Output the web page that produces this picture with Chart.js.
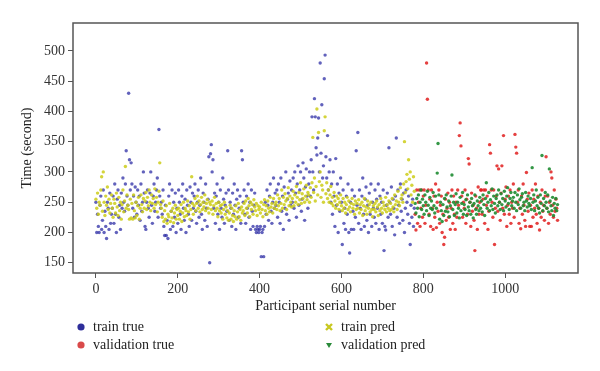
<!DOCTYPE html>
<html>
<head>
<meta charset="utf-8">
<script src="https://cdn.jsdelivr.net/npm/chart.js@4"></script>
<style>
  html, body { margin: 0; padding: 0; background: #fff; }
  #wrap { position: relative; width: 600px; height: 371px; }
  #legend { position: absolute; left: 0; top: 0; width: 600px; height: 371px; pointer-events: none;
            font-family: "Liberation Serif", "DejaVu Serif", serif; font-size: 14px; color: #222; }
  .item { position: absolute; height: 18px; line-height: 18px; white-space: nowrap; }
  .item svg { position: absolute; left: 0; top: 5px; }
  .item span { position: absolute; left: 16px; top: 0; }
</style>
</head>
<body>
<div id="wrap">
  <canvas id="chart" width="600" height="371"></canvas>
  <div id="legend"></div>
</div>
<script>

// participant indices are spaced by 2 (every second participant plotted)
const step = 2;
const trainStart = 0;
const valStart = 780;

const trainTrue = [
  250,200,230,210,200,245,260,205,220,270,200,235,210,190,250,240,205,265,215,230,
  240,260,215,280,230,200,255,270,225,245,205,265,240,290,250,235,280,335,260,245,
  430,320,270,315,280,240,260,225,275,250,230,270,245,260,220,280,235,250,300,265,
  210,205,250,270,240,225,265,300,245,215,260,280,235,250,270,290,225,370,260,240,
  250,230,270,210,195,245,195,220,190,260,280,205,235,270,210,250,225,265,200,240,
  215,270,250,230,205,260,280,240,220,255,200,270,245,230,210,275,250,220,265,240,
  260,280,235,215,250,270,225,245,290,230,205,265,250,220,280,240,210,255,325,150,
  330,345,300,320,240,265,215,260,280,230,250,205,270,240,225,290,255,215,245,265,
  235,335,270,220,250,240,210,265,230,280,245,205,255,270,225,240,260,215,335,320,
  250,270,230,215,260,240,280,225,250,205,270,235,210,245,265,205,200,210,205,200,
  205,210,160,200,205,160,210,250,230,270,245,220,260,280,235,215,250,290,240,265,
  245,270,225,280,250,215,290,235,260,205,275,240,300,230,255,265,220,285,245,270,
  250,290,240,300,265,225,280,310,245,270,300,235,255,315,290,220,275,305,260,240,
  280,300,260,320,391,300,270,421,391,340,328,356,389,300,480,331,411,290,310,454,
  493,325,290,360,270,300,320,250,280,230,300,260,210,322,245,280,200,265,235,290,
  250,180,270,215,240,205,260,230,280,200,166,250,205,270,235,205,260,225,335,245,
  365,215,270,240,205,260,290,230,210,255,275,220,245,200,265,230,280,210,250,240,
  225,270,215,255,240,280,205,260,230,250,215,270,170,210,204,245,265,225,340,250,
  230,275,210,255,240,196,260,356,225,270,245,215,280,235,255,220,265,200,240,270,
  250,230,260,215,180,245,225,255,210,240
];

const trainPred = [
  255,240,265,230,250,245,270,292,235,300,250,228,260,245,275,238,255,232,248,262,
  240,225,255,248,232,265,242,228,258,236,250,222,246,270,234,252,309,240,262,245,
  238,222,255,224,248,222,262,236,224,250,228,244,258,222,240,262,246,234,256,240,
  252,266,238,258,244,270,250,236,262,248,256,240,272,246,258,234,250,268,315,246,
  240,225,252,218,236,222,244,215,230,226,248,218,235,224,240,216,232,245,222,238,
  228,240,222,235,246,218,232,250,226,240,236,228,252,234,244,222,238,292,248,230,
  244,256,236,248,260,240,252,234,246,258,238,250,242,262,236,248,254,240,232,250,
  246,238,252,230,244,258,236,248,240,226,250,236,244,232,246,222,238,250,230,242,
  224,236,220,232,245,222,240,228,218,236,226,244,222,234,248,226,238,220,242,232,
  236,248,228,252,240,232,256,244,226,250,238,246,230,254,242,236,248,228,244,238,
  242,232,250,238,226,246,254,236,244,230,252,240,234,258,242,248,232,256,240,246,
  250,238,262,244,256,236,248,270,240,258,246,264,252,238,256,274,244,260,250,242,
  256,268,244,262,250,276,258,246,266,254,282,248,264,256,272,250,260,278,254,266,
  262,250,274,258,282,357,266,290,252,276,404,262,365,284,300,258,278,270,250,368,
  391,264,282,256,270,250,262,276,248,258,244,266,252,240,260,246,256,238,250,262,
  244,236,256,240,250,232,246,258,238,252,242,234,248,256,240,246,230,252,238,248,
  240,254,232,246,238,250,228,244,256,236,242,230,252,240,246,234,250,238,226,244,
  238,248,234,252,242,228,246,236,256,240,232,250,244,238,258,234,246,240,252,236,
  248,238,256,242,234,262,246,252,238,268,250,244,274,256,262,250,280,350,266,284,
  296,272,320,288,300,262,278,250,292,268
];

const valTrue = [
  230,204,270,215,250,270,210,240,270,225,260,270,215,245,480,420,270,230,255,210,
  270,240,205,260,225,280,208,250,235,270,215,245,260,200,230,180,192,255,220,240,
  265,225,250,205,240,270,215,260,230,205,250,225,270,245,360,381,343,260,225,250,
  240,270,215,255,230,322,313,250,210,265,235,245,220,170,260,240,205,275,230,250,
  270,270,230,255,270,215,270,245,260,205,235,345,331,270,250,225,270,180,240,260,
  310,235,305,250,220,265,310,240,360,230,255,275,210,245,260,230,270,215,250,240,
  280,225,362,341,331,250,270,215,240,206,260,230,280,245,220,210,299,255,235,265,
  210,245,210,270,225,255,240,280,230,215,260,240,204,250,225,270,235,245,220,260,
  325,240,260,215,250,230,300,290,245,225,270,235,255,240,220
];

const valPred = [
  248,232,256,240,262,226,250,270,238,255,244,230,262,250,236,268,245,228,258,240,
  252,238,266,244,232,260,240,298,347,262,222,250,236,218,246,228,256,235,262,242,
  234,252,226,244,260,295,238,250,228,246,264,232,250,240,224,258,236,248,266,230,
  246,238,254,228,262,242,236,250,230,256,244,224,248,262,238,230,252,244,236,258,
  240,252,234,262,246,228,256,282,240,250,266,236,254,244,272,238,260,248,232,256,
  262,244,270,250,238,264,246,256,236,268,252,242,260,274,248,238,256,266,244,252,
  258,240,266,250,236,262,246,272,254,240,258,264,244,250,236,266,252,242,260,248,
  244,256,238,307,250,262,236,252,270,244,258,240,232,262,248,327,236,256,244,266,
  250,240,262,234,305,252,244,236,258,228,248,240,256,236,246
];

const xTicks = [0, 200, 400, 600, 800, 1000];
const yTicks = [150, 200, 250, 300, 350, 400, 450, 500];

const seriesNames = ["train true", "train pred", "validation true", "validation pred"];
const seriesColors = ["rgba(45,45,165,0.75)", "rgba(205,205,25,0.85)", "rgba(225,30,30,0.85)", "rgba(30,140,50,0.9)"];
const legendColors = ["#2e2e9a", "#c8c820", "#d94a4a", "#2a8a3a"];

function toPoints(arr, start){
    return arr.map((v, i) => ({ x: start + i * step, y: v }));
}

const serif = "'Liberation Serif', 'DejaVu Serif', serif";

const framePlugin = {
    id: "frame",
    afterDraw(chart){
        const a = chart.chartArea;
        const c = chart.ctx;
        c.save();
        c.strokeStyle = "#555";
        c.lineWidth = 1.5;
        c.strokeRect(a.left, a.top, a.right - a.left, a.bottom - a.top);
        c.restore();
    }
};

const ctx = document.getElementById("chart");

new Chart(ctx, {
    type: "scatter",
    data: {
        datasets: [
            { label: seriesNames[0], data: toPoints(trainTrue, trainStart), backgroundColor: seriesColors[0], order: 2 },
            { label: seriesNames[1], data: toPoints(trainPred, trainStart), backgroundColor: seriesColors[1], order: 1 },
            { label: seriesNames[2], data: toPoints(valTrue, valStart), backgroundColor: seriesColors[2], order: 2 },
            { label: seriesNames[3], data: toPoints(valPred, valStart), backgroundColor: seriesColors[3], order: 1 }
        ]
    },
    options: {
        responsive: false,
        animation: false,
        elements: { point: { radius: 1.7, borderWidth: 0, hoverRadius: 1.7 } },
        layout: { padding: { left: 15, top: 23, right: 22, bottom: 52 } },
        plugins: { legend: { display: false }, tooltip: { enabled: false } },
        scales: {
            x: {
                type: "linear",
                min: -56,
                max: 1178,
                afterBuildTicks: s => { s.ticks = xTicks.map(v => ({ value: v })); },
                afterFit: s => { s.height = 46; },
                border: { display: false },
                grid: { drawOnChartArea: false, tickLength: 5, color: "#555", lineWidth: 1 },
                ticks: { color: "#333", font: { family: serif, size: 14 }, padding: 3, maxRotation: 0,
                         callback: v => String(v) },
                title: { display: true, text: "Participant serial number", color: "#222", font: { family: serif, size: 14 } }
            },
            y: {
                min: 133,
                max: 546,
                afterBuildTicks: s => { s.ticks = yTicks.map(v => ({ value: v })); },
                afterFit: s => { s.width = 58; },
                border: { display: false },
                grid: { drawOnChartArea: false, tickLength: 5, color: "#555", lineWidth: 1 },
                ticks: { color: "#333", font: { family: serif, size: 14 }, padding: 3,
                         callback: v => String(v) },
                title: { display: true, text: "Time (second)", color: "#222", font: { family: serif, size: 14 } }
            }
        }
    },
    plugins: [framePlugin]
});

// legend, two columns like the original figure
const legendPos = [
    { left: 77, top: 318 },
    { left: 325, top: 318 },
    { left: 77, top: 336 },
    { left: 325, top: 336 }
];
const markers = [
    c => `<circle cx="4" cy="4" r="3.6" fill="${c}"/>`,
    c => `<path d="M1 1 L7 7 M7 1 L1 7" stroke="${c}" stroke-width="2.4"/>`,
    c => `<circle cx="4" cy="4" r="3.6" fill="${c}"/>`,
    c => `<path d="M1 2 L7 2 L4 7 Z" fill="${c}"/>`
];
const legend = document.getElementById("legend");
seriesNames.forEach((name, i) => {
    const d = document.createElement("div");
    d.className = "item";
    d.style.left = legendPos[i].left + "px";
    d.style.top = legendPos[i].top + "px";
    d.innerHTML = `<svg width="8" height="8">${markers[i](legendColors[i])}</svg><span>${name}</span>`;
    legend.appendChild(d);
});

</script>
</body>
</html>
